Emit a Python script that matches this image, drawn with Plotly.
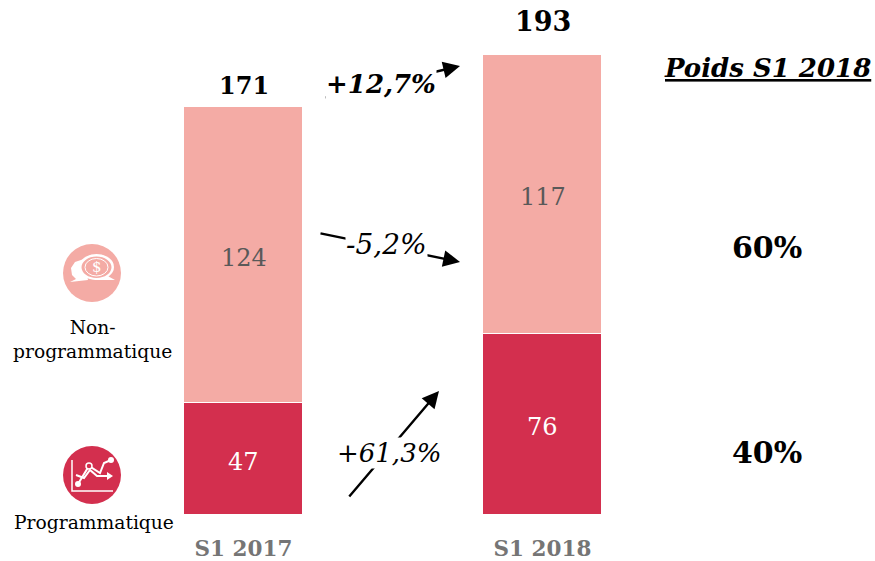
import plotly.graph_objects as go

categories = ["S1 2017", "S1 2018"]
programmatique = [47, 76]
non_programmatique = [124, 117]
totals = [171, 193]
growth_labels = ["<b><i>+12,7%</i></b>", "<i>-5,2%</i>", "<i>+61,3%</i>"]
weights = ["60%", "40%"]

W, H = 875, 561
FONT = "DejaVu Serif"
PINK = "#F4ABA5"
RED = "#D32F4E"
GREY = "#595959"
total_sizes = [24, 27]
total_shifts = [22, 33]


def px(x):
    return x / W


def py(y):
    return 1 - y / H


def path(points, close=False):
    s = "M " + " L ".join(f"{px(x):.5f},{py(y):.5f}" for x, y in points)
    return s + (" Z" if close else "")


def text(x, y, t, size, color="#000000", bg=None):
    d = dict(xref="paper", yref="paper", x=px(x), y=py(y), text=t, showarrow=False,
             xanchor="center", yanchor="middle",
             font=dict(family=FONT, size=size, color=color))
    if bg:
        d.update(bgcolor=bg, borderpad=0)
    return d


def data_text(cat, y, t, size, color, shift):
    return dict(xref="x", yref="y", x=cat, y=y, text=t, showarrow=False, yshift=shift,
                xanchor="center", yanchor="middle",
                font=dict(family=FONT, size=size, color=color))


def arrow(x0, y0, x1, y1):
    return dict(xref="paper", yref="paper", axref="pixel", ayref="pixel",
                x=px(x1), y=py(y1), ax=x0 - x1, ay=y0 - y1, text="", showarrow=True,
                arrowhead=2, arrowsize=1.4, arrowwidth=2.4, arrowcolor="#000000",
                startstandoff=0, standoff=0)


fig = go.Figure()
fig.add_bar(x=categories, y=programmatique, name="Programmatique", width=0.395,
            marker=dict(color=RED, line=dict(color="#FFFFFF", width=1)))
fig.add_bar(x=categories, y=non_programmatique, name="Non-programmatique", width=0.395,
            marker=dict(color=PINK, line=dict(color="#FFFFFF", width=1)))

annotations = [
    arrow(324, 98, 460, 66),
    arrow(319, 233, 460, 262),
    arrow(348, 498, 439, 391),
    text(381, 84, growth_labels[0], 26, bg="#FFFFFF"),
    text(386, 244, growth_labels[1], 28, bg="#FFFFFF"),
    text(389, 453, growth_labels[2], 26, bg="#FFFFFF"),
    text(767, 68, "<b><i><u>Poids S1 2018</u></i></b>", 26),
    text(767, 247, f"<b>{weights[0]}</b>", 30),
    text(767, 452, f"<b>{weights[1]}</b>", 30),
    text(92, 339, "Non-<br>programmatique", 18.7),
    text(94, 522, "Programmatique", 18.7),
    text(96.5, 267, "$", 15, color="#FFFFFF"),
]
for i, cat in enumerate(categories):
    annotations.append(data_text(cat, programmatique[i] / 2, str(programmatique[i]), 24, "#FFFFFF", -3))
    annotations.append(data_text(cat, programmatique[i] + non_programmatique[i] / 2,
                                 str(non_programmatique[i]), 24, GREY, -3))
    annotations.append(data_text(cat, totals[i], f"<b>{totals[i]}</b>", total_sizes[i], "#000000", total_shifts[i]))

shapes = [
    dict(type="circle", xref="paper", yref="paper", x0=px(63), x1=px(121), y0=py(302), y1=py(244),
         fillcolor=PINK, line=dict(width=0)),
    dict(type="circle", xref="paper", yref="paper", x0=px(63), x1=px(121), y0=py(504), y1=py(446),
         fillcolor=RED, line=dict(width=0)),
    # speech bubbles
    dict(type="path", xref="paper", yref="paper",
         path=path([(84, 259), (75, 262), (71, 268), (72, 275), (76, 279), (70, 282), (88, 280)], True),
         fillcolor="#FFFFFF", line=dict(width=0)),
    dict(type="path", xref="paper", yref="paper", path=path([(104, 274), (115, 280), (94, 280)], True),
         fillcolor="#FFFFFF", line=dict(width=0)),
    dict(type="circle", xref="paper", yref="paper", x0=px(79), x1=px(114), y0=py(280), y1=py(254),
         fillcolor="#FFFFFF", line=dict(width=0)),
    dict(type="circle", xref="paper", yref="paper", x0=px(81.5), x1=px(111.5), y0=py(278), y1=py(256.5),
         fillcolor=PINK, line=dict(width=0)),
    dict(type="circle", xref="paper", yref="paper", x0=px(85), x1=px(108), y0=py(276), y1=py(258.5),
         fillcolor=PINK, line=dict(color="#FFFFFF", width=1)),
    # chart icon
    dict(type="path", xref="paper", yref="paper", path=path([(72, 460), (72, 491), (113, 491)]),
         line=dict(color="#FFFFFF", width=1.5)),
    dict(type="path", xref="paper", yref="paper", path=path([(78, 484), (89, 466), (100, 473), (104, 463), (111, 460)]),
         line=dict(color="#FFFFFF", width=2)),
    dict(type="path", xref="paper", yref="paper", path=path([(76, 475), (84, 478), (90, 470), (97, 476), (111, 476)]),
         line=dict(color="#FFFFFF", width=2)),
    dict(type="path", xref="paper", yref="paper", path=path([(107, 472), (113, 476), (107, 480)], True),
         fillcolor="#FFFFFF", line=dict(width=0)),
    dict(type="circle", xref="paper", yref="paper", x0=px(75), x1=px(81), y0=py(487), y1=py(481),
         fillcolor="#FFFFFF", line=dict(width=0)),
    dict(type="circle", xref="paper", yref="paper", x0=px(86), x1=px(92), y0=py(469), y1=py(463),
         fillcolor=RED, line=dict(color="#FFFFFF", width=1.5)),
    dict(type="circle", xref="paper", yref="paper", x0=px(108), x1=px(114), y0=py(463), y1=py(457),
         fillcolor="#FFFFFF", line=dict(width=0)),
]

fig.update_layout(
    width=W, height=H, barmode="stack", showlegend=False, bargap=0,
    margin=dict(l=0, r=0, t=0, b=0, autoexpand=False), paper_bgcolor="#FFFFFF", plot_bgcolor="#FFFFFF",
    annotations=annotations, shapes=shapes,
    xaxis=dict(type="category", range=[-243.5 / 299, (875 - 243.5) / 299], showgrid=False, zeroline=False,
               showline=False, ticks="", ticklabelstandoff=18, automargin=False,
               tickfont=dict(family=FONT, size=21.5, color="#757575", weight="bold")),
    yaxis=dict(domain=[(H - 515) / H, 1], range=[0, 515 / 2.385], visible=False),
)
fig.write_html("out.html", config={"displayModeBar": False},
               post_script="document.body.style.margin='0';")
